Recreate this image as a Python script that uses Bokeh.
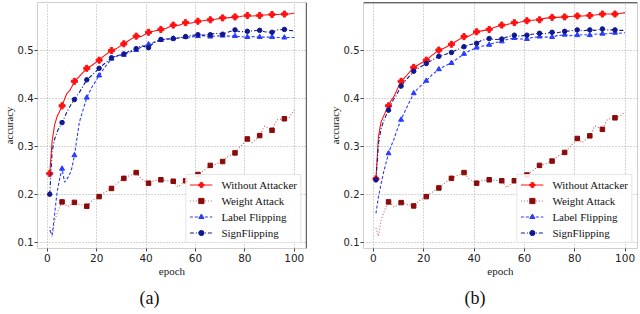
from bokeh.plotting import figure
from bokeh.models import Range1d, FixedTicker, Legend, LegendItem, Span, Title
from bokeh.layouts import row
from bokeh.embed import file_html
from bokeh.resources import INLINE

epochs = [1, 2, 3, 4, 5, 6, 7, 8, 9, 10, 11, 13, 16, 18, 21, 23, 26, 28, 31, 33, 36, 38,
          41, 43, 46, 48, 51, 53, 56, 58, 61, 63, 66, 68, 71, 73, 76, 78, 81, 83, 86, 88,
          91, 93, 96, 98, 100]
marker_epochs = [1, 6, 11, 16, 21, 26, 31, 36, 41, 46, 51, 56, 61, 66, 71, 76, 81, 86, 91, 96]

# ---- panel (a) ----
a_without = [0.243, 0.312, 0.345, 0.362, 0.372, 0.384, 0.398, 0.410, 0.415, 0.424, 0.435, 0.445,
             0.462, 0.468, 0.479, 0.488, 0.499, 0.503, 0.513, 0.520, 0.529, 0.528, 0.537, 0.539,
             0.543, 0.545, 0.552, 0.551, 0.557, 0.556, 0.560, 0.561, 0.563, 0.564, 0.567, 0.567,
             0.569, 0.570, 0.572, 0.571, 0.572, 0.573, 0.574, 0.574, 0.575, 0.575, 0.577]
a_weight = [0.132, 0.112, 0.145, 0.160, 0.173, 0.184, 0.180, 0.174, 0.176, 0.180, 0.183, 0.179,
            0.175, 0.186, 0.195, 0.203, 0.212, 0.222, 0.233, 0.238, 0.245, 0.232, 0.223, 0.228,
            0.230, 0.228, 0.227, 0.215, 0.228, 0.235, 0.241, 0.248, 0.260, 0.262, 0.268, 0.278,
            0.286, 0.298, 0.315, 0.307, 0.322, 0.342, 0.333, 0.355, 0.357, 0.360, 0.376]
a_label = [0.125, 0.115, 0.160, 0.205, 0.232, 0.253, 0.225, 0.232, 0.240, 0.255, 0.281, 0.350,
           0.401, 0.422, 0.447, 0.462, 0.482, 0.487, 0.490, 0.495, 0.500, 0.506, 0.512, 0.516,
           0.521, 0.522, 0.524, 0.525, 0.527, 0.527, 0.529, 0.530, 0.528, 0.529, 0.530, 0.529,
           0.529, 0.528, 0.527, 0.528, 0.527, 0.527, 0.527, 0.526, 0.526, 0.526, 0.526]
a_sign = [0.200, 0.290, 0.315, 0.330, 0.340, 0.349, 0.360, 0.372, 0.381, 0.390, 0.397, 0.412,
          0.438, 0.447, 0.462, 0.471, 0.484, 0.488, 0.492, 0.497, 0.503, 0.509, 0.505, 0.515,
          0.522, 0.523, 0.524, 0.525, 0.528, 0.530, 0.532, 0.531, 0.532, 0.535, 0.533, 0.537,
          0.542, 0.538, 0.539, 0.540, 0.541, 0.538, 0.537, 0.542, 0.543, 0.541, 0.540]

# ---- panel (b) ----
b_without = [0.232, 0.320, 0.350, 0.362, 0.374, 0.384, 0.395, 0.402, 0.413, 0.425, 0.435, 0.446,
             0.464, 0.470, 0.479, 0.488, 0.500, 0.504, 0.512, 0.519, 0.528, 0.529, 0.538, 0.540,
             0.543, 0.547, 0.552, 0.553, 0.557, 0.558, 0.561, 0.562, 0.563, 0.566, 0.568, 0.568,
             0.569, 0.570, 0.571, 0.571, 0.572, 0.573, 0.575, 0.575, 0.575, 0.576, 0.578]
b_weight = [0.130, 0.113, 0.145, 0.160, 0.174, 0.184, 0.180, 0.174, 0.175, 0.179, 0.1825, 0.179,
            0.1756, 0.186, 0.195, 0.203, 0.213, 0.222, 0.233, 0.238, 0.245, 0.232, 0.223, 0.228,
            0.230, 0.229, 0.228, 0.214, 0.228, 0.234, 0.240, 0.248, 0.260, 0.262, 0.269, 0.278,
            0.287, 0.298, 0.316, 0.3075, 0.3215, 0.342, 0.335, 0.356, 0.359, 0.362, 0.372]
b_label = [0.160, 0.195, 0.220, 0.245, 0.265, 0.285, 0.300, 0.312, 0.328, 0.342, 0.355, 0.378,
           0.410, 0.422, 0.436, 0.447, 0.460, 0.466, 0.473, 0.481, 0.492, 0.498, 0.505, 0.508,
           0.511, 0.515, 0.518, 0.522, 0.525, 0.523, 0.523, 0.526, 0.528, 0.527, 0.527, 0.530,
           0.532, 0.530, 0.531, 0.532, 0.531, 0.533, 0.534, 0.534, 0.536, 0.535, 0.536]
b_sign = [0.230, 0.305, 0.335, 0.352, 0.364, 0.375, 0.388, 0.397, 0.405, 0.415, 0.425, 0.438,
          0.456, 0.463, 0.472, 0.478, 0.487, 0.490, 0.495, 0.500, 0.507, 0.511, 0.514, 0.520,
          0.524, 0.522, 0.523, 0.527, 0.531, 0.529, 0.531, 0.533, 0.535, 0.534, 0.537, 0.536,
          0.539, 0.540, 0.542, 0.540, 0.542, 0.541, 0.544, 0.542, 0.542, 0.541, 0.541]

names = ["Without Attacker", "Weight Attack", "Label Flipping", "SignFlipping"]
x_ticks = [0, 20, 40, 60, 80, 100]
y_ticks = [0.1, 0.2, 0.3, 0.4, 0.5]

SERIF = "Liberation Serif"
SANS = "DejaVu Sans"

styles = [
    dict(color="#ff1010", dash="solid", marker="plus", msize=6, mcolor="#ff1010", first=True),
    dict(color="#c06060", dash="1 2", marker="square", msize=4.5, mcolor="#8b0a0a", first=False),
    dict(color="#2a3cff", dash="3 2", marker="triangle", msize=5, mcolor="#2a3cff", first=False),
    dict(color="#101890", dash="4 2 1 2", marker="circle", msize=4.5, mcolor="#101890", first=True),
]


def make_panel(series, caption, left, right, black_side, cap_offset):
    p = figure(width=320, height=314, output_backend="svg", toolbar_location=None,
               x_range=Range1d(-3.95, 104.95), y_range=Range1d(0.087, 0.599),
               min_border_left=left, min_border_right=right, min_border_top=2,
               min_border_bottom=0, background_fill_color="white",
               border_fill_color="white")
    p.outline_line_color = "#cfcfcf"
    for ax in (p.xaxis[0], p.yaxis[0]):
        ax.axis_line_color = None
        ax.major_tick_out = 3
        ax.major_tick_in = 0
        ax.minor_tick_line_color = None
        ax.major_tick_line_color = "#444444"
        ax.major_label_text_font = SANS
        ax.major_label_text_font_size = "10.5px"
        ax.major_label_text_color = "#222222"
        ax.major_label_standoff = 1
        ax.axis_label_text_font = SERIF
        ax.axis_label_text_font_size = "11px"
        ax.axis_label_text_font_style = "normal"
        ax.axis_label_text_color = "#222222"
        ax.axis_label_standoff = 0
    p.xaxis.major_label_standoff = 2
    p.yaxis.major_label_text_font_size = "10px"
    p.yaxis.axis_label_text_font_size = "10.5px"
    p.xaxis.ticker = FixedTicker(ticks=x_ticks)
    p.yaxis.ticker = FixedTicker(ticks=y_ticks)
    p.xaxis.axis_label = "epoch"
    p.yaxis.axis_label = "accuracy"
    p.grid.grid_line_color = "#a8a8a8"
    p.grid.grid_line_dash = "1 2"
    p.grid.grid_line_width = 1

    items = []
    for vals, name, st in zip(series, names, styles):
        ln = p.line(epochs, vals, line_color=st["color"], line_width=1.1, line_dash=st["dash"])
        mx = [e for e, v in zip(epochs, vals) if e in marker_epochs and (st["first"] or e != 1)]
        my = [v for e, v in zip(epochs, vals) if e in marker_epochs and (st["first"] or e != 1)]
        mk = p.scatter(mx, my, marker=st["marker"], size=st["msize"], fill_color=st["mcolor"],
                       line_color=st["mcolor"], line_width=1)
        items.append(LegendItem(label=name, renderers=[ln, mk]))

    if black_side == "right":
        p.add_layout(Span(location=104.95, dimension="height", line_color="black", line_width=1.3))
    else:
        p.add_layout(Span(location=0.599, dimension="width", line_color="black", line_width=1.3))

    legend = Legend(items=items, location="bottom_right", margin=5, padding=3, spacing=3,
                    glyph_width=23, glyph_height=13, label_height=13, label_standoff=9,
                    label_text_font=SERIF, label_text_font_size="11px",
                    label_text_color="#111111", border_line_color="#cccccc",
                    background_fill_alpha=0.9)
    p.add_layout(legend, "center")

    p.add_layout(Title(text=caption, align="left", offset=cap_offset, vertical_align="bottom",
                       text_font=SERIF, text_font_size="18px", text_font_style="normal",
                       text_color="#111111", standoff=13), "below")
    return p


pa = make_panel([a_without, a_weight, a_label, a_sign], "(a)", 32, 14, "right", 102)
pb = make_panel([b_without, b_weight, b_label, b_sign], "(b)", 43, 3, "top", 101)

layout = row(pa, pb)
open("out.html", "w").write(file_html(layout, INLINE))
